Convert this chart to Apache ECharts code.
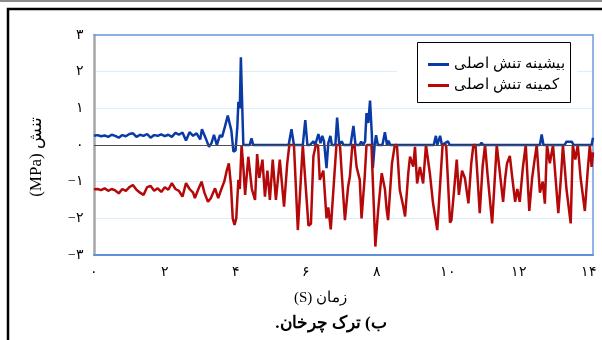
<!DOCTYPE html>
<html>
<head>
<meta charset="utf-8">
<script src="https://cdn.jsdelivr.net/npm/echarts@6/dist/echarts.min.js"></script>
<style>
  html, body { margin: 0; padding: 0; background: #fff; }
  #chart { width: 602px; height: 340px; }
</style>
</head>
<body>
<div id="chart"></div>
<script>
// Series names (legend entries)
const seriesNames = ['بیشینه تنش اصلی', 'کمینه تنش اصلی'];

// Tick labels in Persian digits
const xTickLabels = ['۰', '۲', '۴', '۶', '۸', '۱۰', '۱۲', '۱۴'];
const yTickLabels = ['−۳', '−۲', '−۱', '۰', '۱', '۲', '۳'];

// Axis titles and caption
const xTitle = '(S) زمان';
const yTitle = '(MPa) تنش';
const caption = 'ب) ترک چرخان.\u200F';

// Maximum principal stress (MPa): sample times (s) and values
const maxTime = [0, 0.1, 0.2, 0.3, 0.4, 0.5, 0.6, 0.7, 0.8, 0.9, 1.0, 1.1, 1.2, 1.3, 1.4, 1.5, 1.6, 1.7, 1.8, 1.9,
  2.0, 2.1, 2.2, 2.3, 2.4, 2.5, 2.6, 2.7, 2.8, 2.9, 3.0, 3.05, 3.15, 3.25, 3.32, 3.39, 3.47, 3.56, 3.62, 3.7,
  3.78, 3.82, 3.88, 3.94, 4.0, 4.05, 4.08, 4.12, 4.15, 4.19, 4.22, 4.4, 4.45, 4.5, 5.5, 5.58, 5.65, 5.9, 5.97, 6.03,
  6.1, 6.2, 6.25, 6.34, 6.4, 6.45, 6.5, 6.57, 6.62, 6.68, 6.72, 6.82, 6.87, 6.93, 7.0, 7.05, 7.25, 7.33, 7.39, 7.5,
  7.55, 7.6, 7.66, 7.7, 7.75, 7.8, 7.85, 7.88, 7.93, 7.97, 8.02, 8.15, 8.22, 8.28, 8.32, 8.37, 9.6, 9.66, 9.7, 9.78,
  9.83, 10.0, 10.05, 10.9, 10.95, 11.0, 12.25, 12.3, 12.35, 12.6, 12.65, 12.7, 13.3, 13.35, 13.4, 13.5, 13.55, 13.9, 13.95, 14.0,
  14.06, 14.1];
const maxStress = [0.25, 0.27, 0.24, 0.26, 0.22, 0.28, 0.25, 0.2, 0.27, 0.24, 0.3, 0.32, 0.22, 0.28, 0.25, 0.3, 0.2, 0.27, 0.25, 0.29,
  0.24, 0.28, 0.22, 0.33, 0.28, 0.34, 0.12, 0.35, 0.25, 0.32, 0.15, 0.43, 0.2, -0.05, 0.05, 0.28, 0.0, 0.27, 0.22, 0.5,
  0.8, 0.85, 0.4, -0.18, -0.15, 0.5, 1.18, 1.0, 2.39, 1.0, 0.0, 0.0, 0.18, 0.0, 0.0, 0.43, 0.0, 0.0, 0.68, 0.0,
  0.0, 0.1, 0.0, 0.3, 0.05, 0.25, 0.1, -0.63, 0.05, 0.25, 0.0, 0.0, 0.75, 0.0, 0.1, 0.0, 0.0, 0.52, 0.0, 0.0,
  0.09, 0.0, 0.1, 0.87, 0.6, 1.21, 0.3, -0.63, 0.0, 0.27, 0.0, 0.0, 0.35, 0.0, 0.12, 0.0, 0.0, 0.25, 0.0, 0.25,
  0.0, 0.1, 0.0, 0.0, 0.06, 0.0, 0.0, 0.05, 0.0, 0.0, 0.29, 0.0, 0.0, 0.09, 0.05, 0.09, 0.0, 0.0, 0.05, 0.0,
  0.0, 0.2];

// Minimum principal stress (MPa): sample times (s) and values
const minTime = [0, 0.1, 0.2, 0.3, 0.4, 0.5, 0.6, 0.7, 0.8, 0.9, 1.0, 1.1, 1.2, 1.3, 1.4, 1.5, 1.6, 1.7, 1.8, 1.9,
  2.0, 2.1, 2.2, 2.3, 2.4, 2.5, 2.6, 2.7, 2.8, 2.85, 2.95, 3.04, 3.12, 3.22, 3.3, 3.42, 3.51, 3.6, 3.68, 3.75,
  3.81, 3.87, 3.92, 3.97, 4.02, 4.08, 4.12, 4.17, 4.22, 4.27, 4.36, 4.46, 4.55, 4.61, 4.67, 4.76, 4.83, 4.9, 4.97, 5.05,
  5.14, 5.25, 5.37, 5.46, 5.52, 5.65, 5.76, 5.84, 5.9, 5.95, 6.06, 6.13, 6.2, 6.27, 6.33, 6.38, 6.48, 6.57, 6.62, 6.69,
  6.78, 6.85, 6.95, 7.0, 7.09, 7.18, 7.23, 7.3, 7.36, 7.42, 7.51, 7.56, 7.65, 7.7, 7.84, 7.95, 8.03, 8.13, 8.22, 8.27,
  8.31, 8.42, 8.5, 8.56, 8.64, 8.74, 8.79, 8.88, 8.93, 9.02, 9.07, 9.13, 9.21, 9.3, 9.38, 9.42, 9.49, 9.58, 9.7, 9.77,
  9.85, 9.95, 10.0, 10.06, 10.1, 10.2, 10.25, 10.31, 10.4, 10.48, 10.58, 10.66, 10.72, 10.78, 10.9, 10.98, 11.05, 11.12, 11.25, 11.32,
  11.38, 11.45, 11.56, 11.62, 11.67, 11.75, 11.82, 11.9, 11.96, 12.03, 12.12, 12.2, 12.25, 12.3, 12.38, 12.45, 12.51, 12.6, 12.68, 12.74,
  12.8, 12.88, 12.97, 13.05, 13.12, 13.2, 13.25, 13.35, 13.47, 13.53, 13.6, 13.67, 13.75, 13.87, 13.95, 14.01, 14.06, 14.1];
const minStress = [-1.21, -1.2, -1.23, -1.18, -1.25, -1.2, -1.24, -1.32, -1.2, -1.25, -1.15, -1.09, -1.22, -1.3, -1.36, -1.15, -1.12, -1.25, -1.18, -1.28,
  -1.15, -1.22, -1.04, -1.2, -1.25, -1.41, -1.04, -1.2, -1.3, -1.45, -1.2, -1.0, -1.3, -1.55, -1.45, -1.18, -1.45, -1.2, -1.0, -0.7,
  -0.5, -1.1, -2.0, -2.18, -2.0, -0.95, -1.2, 0.0, -0.6, -1.36, -0.32, -1.2, -1.5, -0.25, -0.9, -0.4, -1.41, -0.7, -1.5, -0.4,
  -1.5, -0.4, -1.68, -0.5, 0.0, 0.0, -2.32, -1.0, 0.0, 0.0, -2.2, -2.15, -0.3, 0.0, 0.0, -0.95, -0.7, -2.0, -1.7, -2.3,
  -1.0, 0.0, 0.0, -0.77, -2.05, -1.14, -0.86, 0.0, 0.0, -0.6, -0.95, -2.0, -0.86, 0.0, 0.0, -2.77, -1.77, -0.77, -1.2, -1.77,
  -2.05, -0.5, 0.0, 0.0, -1.23, -1.68, -1.95, -0.77, -0.32, -0.59, -0.05, -1.05, -0.6, -1.05, 0.0, 0.0, -0.77, -1.59, -2.32, -1.23,
  0.0, 0.0, -0.95, -2.12, -2.05, -0.95, -0.4, -1.36, -0.7, -0.9, -1.59, -0.5, 0.0, 0.0, -1.86, -0.6, 0.0, -0.8, -2.14, -1.0,
  0.0, -0.6, -1.55, -0.9, -0.5, -0.3, -0.9, -1.55, -1.2, -1.55, -0.6, 0.0, 0.0, -1.8, -0.9, -0.4, 0.0, -1.3, -1.0, -1.6,
  0.0, -0.5, 0.0, -1.0, -1.86, -0.8, 0.0, -1.2, -2.14, 0.0, -0.4, 0.0, -0.9, -1.8, -0.7, 0.0, -0.6, -0.2];

const pair = (ts, vs) => ts.map((t, i) => [t, vs[i]]);

const serif = "'Liberation Serif', 'DejaVu Serif', serif";
const chart = echarts.init(document.getElementById('chart'), null, { renderer: 'canvas' });

const xLabel = v => {
  const i = Math.round(v / 2);
  return Math.abs(v - i * 2) < 1e-6 && xTickLabels[i] !== undefined ? xTickLabels[i] : '';
};
const yLabel = v => yTickLabels[Math.round(v) + 3] || '';

chart.setOption({
  animation: false,
  backgroundColor: '#fff',
  grid: { left: 94, top: 35, width: 499, height: 220, containLabel: false },
  xAxis: [
    {
      type: 'value', min: 0, max: 14.1, interval: 2, position: 'bottom',
      axisLine: { show: true, onZero: false, lineStyle: { color: '#5f8fd9', width: 2 } },
      axisTick: { show: false },
      splitLine: { show: false },
      axisLabel: { formatter: xLabel, margin: 10, fontSize: 14, color: '#000', fontFamily: serif },
      name: xTitle, nameLocation: 'middle', nameGap: 36,
      nameTextStyle: { fontSize: 15, color: '#000', fontFamily: serif, padding: [0, 0, 0, -46] }
    },
    {
      type: 'value', min: 0, max: 14.1, position: 'top',
      axisLine: { show: true, onZero: false, lineStyle: { color: '#6c9be0', width: 1.5 } },
      axisTick: { show: false }, axisLabel: { show: false }, splitLine: { show: false }
    }
  ],
  yAxis: [
    {
      type: 'value', min: -3, max: 3, interval: 1, position: 'left',
      axisLine: { show: true, onZero: false, lineStyle: { color: '#a6a6a6', width: 2.5 } },
      axisTick: { show: false },
      splitLine: { show: true, lineStyle: { color: '#dcedfb', width: 1 } },
      axisLabel: { formatter: yLabel, margin: 10, fontSize: 14, color: '#000', fontFamily: serif }
    },
    {
      type: 'value', min: -3, max: 3, position: 'right',
      axisLine: { show: true, onZero: false, lineStyle: { color: '#6c9be0', width: 1.5 } },
      axisTick: { show: false }, axisLabel: { show: false }, splitLine: { show: false }
    }
  ],
  legend: {
    orient: 'vertical', left: 423, top: 52, icon: 'rect', itemWidth: 21, itemHeight: 3, itemGap: 6,
    z: 10, data: seriesNames,
    textStyle: { fontSize: 15, color: '#000', fontFamily: serif }
  },
  graphic: [
    // figure frame
    { type: 'rect', z: 0, silent: true, shape: { x: 0, y: 0, width: 602, height: 2 }, style: { fill: '#8c8c8c' } },
    { type: 'rect', z: 0, silent: true, shape: { x: 8, y: 9, width: 620, height: 360 },
      style: { fill: 'none', stroke: '#000', lineWidth: 2.5 } },
    // legend backdrop and box
    { type: 'rect', z: 5, silent: true, shape: { x: 397, y: 37, width: 180, height: 67 }, style: { fill: '#fff' } },
    { type: 'rect', z: 6, silent: true, shape: { x: 417.5, y: 42.5, width: 153, height: 60 },
      style: { fill: '#fff', stroke: '#000', lineWidth: 1 } },
    // vertical axis title
    { type: 'text', z: 6, silent: true, x: 37, y: 157, rotation: Math.PI / 2,
      style: { text: yTitle, fill: '#000', font: "17px 'Liberation Serif', 'DejaVu Serif', serif",
        textAlign: 'center', textVerticalAlign: 'middle' } },
    // caption
    { type: 'text', z: 6, silent: true, x: 331, y: 324,
      style: { text: caption, fill: '#000', font: "bold 17px 'Liberation Serif', 'DejaVu Serif', serif",
        textAlign: 'center', textVerticalAlign: 'middle' } }
  ],
  series: [
    {
      name: seriesNames[0], type: 'line', data: pair(maxTime, maxStress),
      showSymbol: false, symbol: 'none', smooth: false,
      lineStyle: { color: '#0a3aa5', width: 2.5 }, itemStyle: { color: '#0a3aa5' },
      markLine: {
        silent: true, symbol: 'none', label: { show: false },
        lineStyle: { color: '#4d4d4d', width: 1, type: 'solid' },
        data: [{ yAxis: 0 }]
      }
    },
    {
      name: seriesNames[1], type: 'line', data: pair(minTime, minStress),
      showSymbol: false, symbol: 'none', smooth: false,
      lineStyle: { color: '#b50808', width: 2.5 }, itemStyle: { color: '#b50808' }
    }
  ]
});
</script>
</body>
</html>
